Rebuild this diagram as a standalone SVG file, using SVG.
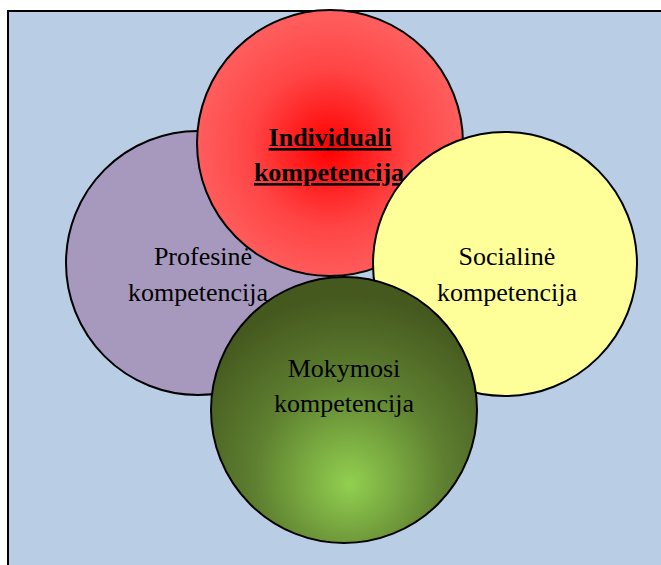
<svg xmlns="http://www.w3.org/2000/svg" width="661" height="565" viewBox="0 0 661 565">
<style>
.c{stroke:#000;stroke-width:2}
.t{font-family:"Liberation Serif","Times New Roman",serif;font-size:26px;fill:#000;text-anchor:middle}
.b{font-weight:bold;text-decoration:underline}
</style>
<defs>
<radialGradient id="gRed" cx="0.5" cy="0.52" r="0.5">
<stop offset="0" stop-color="#FF0000"/>
<stop offset="0.6" stop-color="#FF4545"/>
<stop offset="1" stop-color="#FF5D5D"/>
</radialGradient>
<radialGradient id="gGreen" cx="0.52" cy="0.72" r="0.65" fx="0.52" fy="0.78">
<stop offset="0" stop-color="#92D050"/>
<stop offset="0.55" stop-color="#5E7F30"/>
<stop offset="1" stop-color="#45591F"/>
</radialGradient>
</defs>
<rect x="0" y="0" width="661" height="565" fill="#fff"/>
<rect x="8" y="11" width="700" height="600" fill="#B9CDE5" stroke="#000" stroke-width="2"/>
<g id="connectors"/>
<g id="profesine">
<circle class="c" cx="198" cy="263" r="132" fill="#A798BE"/>
<text class="t" x="203" y="265">Profesinė</text>
<text class="t" x="198" y="301">kompetencija</text>
</g>
<g id="individuali">
<circle class="c" cx="330" cy="143" r="133" fill="url(#gRed)"/>
<text class="t b" x="330" y="146">Individuali</text>
<text class="t b" x="329" y="181">kompetencija</text>
</g>
<g id="socialine">
<circle class="c" cx="505" cy="264" r="132" fill="#FFFF99"/>
<text class="t" x="507" y="265">Socialinė</text>
<text class="t" x="507" y="301">kompetencija</text>
</g>
<g id="mokymosi">
<circle class="c" cx="344" cy="410" r="133" fill="url(#gGreen)"/>
<text class="t" x="344" y="377">Mokymosi</text>
<text class="t" x="344" y="412">kompetencija</text>
</g>
</svg>
